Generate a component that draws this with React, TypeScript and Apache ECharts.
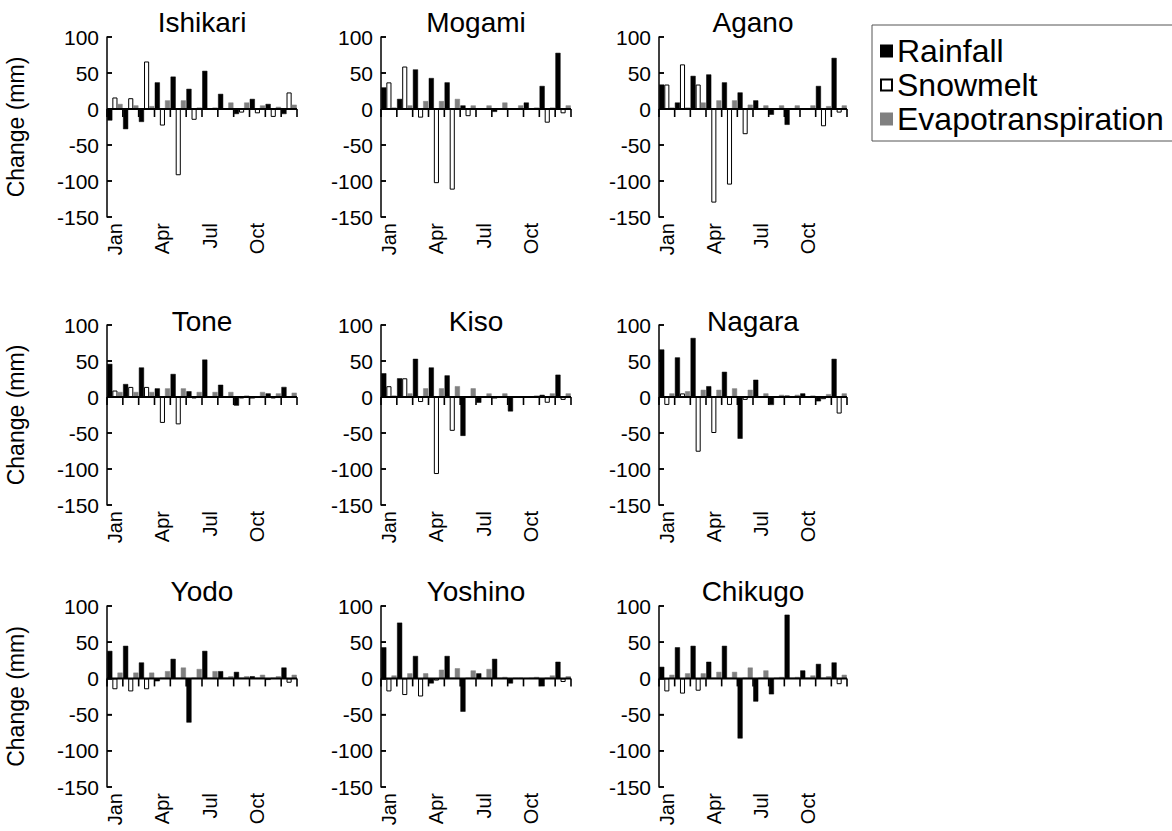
import React, { useEffect, useRef } from 'react';
import * as echarts from 'echarts';

const months = ['Jan', 'Feb', 'Mar', 'Apr', 'May', 'Jun', 'Jul', 'Aug', 'Sep', 'Oct', 'Nov', 'Dec'];
const seriesNames = ['Rainfall', 'Snowmelt', 'Evapotranspiration'];
const yTicks = { min: -150, max: 100, interval: 50 };

const ishikariRain = [-16, -28, -18, 37, 45, 28, 53, 21, -7, 14, 7, -7];
const ishikariSnow = [16, 15, 66, -23, -92, -15, 0, 0, -5, -6, -11, 23];
const ishikariEvap = [7, 5, 4, 12, 12, 2, 2, 9, 9, 5, 3, 6];

const mogamiRain = [30, 14, 55, 43, 37, 5, 1, -4, 0, 9, 32, 78];
const mogamiSnow = [37, 59, -12, -103, -112, -10, 0, 0, 0, 0, -19, -6];
const mogamiEvap = [2, 5, 11, 11, 14, 5, 5, 9, 5, 2, 2, 5];

const aganoRain = [34, 9, 46, 48, 37, 23, 12, -8, -22, -1, 32, 71];
const aganoSnow = [34, 62, 34, -130, -105, -35, 0, 0, 0, 1, -24, -5];
const aganoEvap = [2, 2, 9, 12, 12, 6, 5, 5, 5, 5, 4, 5];

const toneRain = [46, 18, 41, 12, 32, 8, 52, 17, -12, -2, 5, 14];
const toneSnow = [9, 14, 14, -36, -38, -2, 0, 0, -2, 0, -2, 0];
const toneEvap = [7, 7, 7, 12, 12, 7, 7, 7, 2, 7, 5, 6];

const kisoRain = [33, 26, 53, 41, 30, -54, -8, -2, -20, 0, 3, 31];
const kisoSnow = [15, 26, -7, -107, -47, -1, 0, 0, 0, 0, -8, -4];
const kisoEvap = [2, 5, 12, 12, 15, 12, 5, 5, 1, 2, 5, 5];

const nagaraRain = [66, 55, 82, 15, 35, -58, 24, -11, 2, 5, -6, 53];
const nagaraSnow = [-11, 5, -76, -50, -11, -4, 0, 0, 0, 0, -3, -23];
const nagaraEvap = [5, 8, 10, 10, 12, 10, 5, 3, 3, 2, 4, 5];

const yodoRain = [38, 45, 22, -4, 27, -61, 38, 10, 9, 3, -2, 15];
const yodoSnow = [-15, -18, -15, 0, 0, 0, 0, 0, 0, 0, 0, -6];
const yodoEvap = [8, 8, 8, 10, 15, 13, 10, 3, 3, 5, 3, 5];

const yoshinoRain = [43, 77, 31, -7, 31, -46, 7, 27, -7, 0, -11, 23];
const yoshinoSnow = [-18, -23, -25, -3, 0, 0, 0, 0, 0, 0, 0, -5];
const yoshinoEvap = [4, 7, 7, 12, 14, 11, 13, 2, 1, 2, 4, 3];

const chikugoRain = [16, 43, 45, 23, 45, -83, -32, -22, 88, 11, 20, 22];
const chikugoSnow = [-18, -21, -17, 0, 0, 0, 0, 0, 0, 0, 0, -8];
const chikugoEvap = [5, 7, 7, 9, 9, 15, 11, 2, 2, 4, 3, 5];

const panels = [
  { name: 'Ishikari', values: [ishikariRain, ishikariSnow, ishikariEvap] },
  { name: 'Mogami', values: [mogamiRain, mogamiSnow, mogamiEvap] },
  { name: 'Agano', values: [aganoRain, aganoSnow, aganoEvap] },
  { name: 'Tone', values: [toneRain, toneSnow, toneEvap] },
  { name: 'Kiso', values: [kisoRain, kisoSnow, kisoEvap] },
  { name: 'Nagara', values: [nagaraRain, nagaraSnow, nagaraEvap] },
  { name: 'Yodo', values: [yodoRain, yodoSnow, yodoEvap] },
  { name: 'Yoshino', values: [yoshinoRain, yoshinoSnow, yoshinoEvap] },
  { name: 'Chikugo', values: [chikugoRain, chikugoSnow, chikugoEvap] },
];

const FONT = '"Liberation Sans", Arial, Helvetica, sans-serif';
const colLeft = [107, 381, 659];
const colWidth = [190, 190, 188];
const rowTop = [37, 325, 606];
const rowHeight = [180, 180, 181];
const titleY = [22, 321, 591];

const seriesStyles = [
  { color: '#000000', borderColor: '#000000', borderWidth: 0.5 },
  { color: '#ffffff', borderColor: '#000000', borderWidth: 1 },
  { color: '#808080', borderColor: '#808080', borderWidth: 0.5 },
];

export default function App() {
  const ref = useRef<HTMLDivElement>(null);

  useEffect(() => {
    if (!ref.current) return;
    const chart = echarts.init(ref.current, null, { renderer: 'svg' });

    const grid: any[] = [];
    const xAxis: any[] = [];
    const yAxis: any[] = [];
    const series: any[] = [];
    const graphic: any[] = [];

    panels.forEach((p, i) => {
      const col = i % 3;
      const row = Math.floor(i / 3);
      const left = colLeft[col];
      const width = colWidth[col];
      const top = rowTop[row];
      const h = rowHeight[row];
      grid.push({
        left,
        top,
        width,
        height: h,
        containLabel: false,
        outerBoundsMode: 'none',
      });
      xAxis.push({
        type: 'category',
        gridIndex: i,
        data: months,
        position: 'bottom',
        axisLine: { show: false, onZero: false },
        axisTick: { show: false },
        splitLine: { show: false },
        axisLabel: {
          interval: 2,
          rotate: 90,
          fontSize: 20,
          fontFamily: FONT,
          color: '#000',
          margin: 6,
        },
      });
      yAxis.push({
        type: 'value',
        gridIndex: i,
        min: yTicks.min,
        max: yTicks.max,
        interval: yTicks.interval,
        axisLine: { show: true, onZero: false, lineStyle: { color: '#000', width: 1.5 } },
        axisTick: { show: true, inside: true, length: 5, lineStyle: { color: '#000', width: 1.5 } },
        splitLine: { show: false },
        axisLabel: { fontSize: 21, fontFamily: FONT, color: '#000', margin: 8 },
        name: col === 0 ? 'Change (mm)' : '',
        nameLocation: 'middle',
        nameGap: 80,
        nameRotate: 90,
        nameTextStyle: { fontSize: 23, fontFamily: FONT, color: '#000' },
      });
      p.values.forEach((vals, k) => {
        series.push({
          type: 'bar',
          name: seriesNames[k],
          xAxisIndex: i,
          yAxisIndex: i,
          data: vals,
          barGap: '0%',
          barCategoryGap: '3%',
          itemStyle: seriesStyles[k],
          silent: true,
          z: 2,
        });
      });

      // panel title
      graphic.push({
        type: 'text',
        x: left + width / 2,
        y: titleY[row],
        style: {
          text: p.name,
          fontSize: 28,
          fontFamily: FONT,
          fill: '#000',
          textAlign: 'center',
          textVerticalAlign: 'middle',
        },
      });

      // zero line and month-boundary ticks, derived from the grid layout
      const span = yTicks.max - yTicks.min;
      const zeroY = top + (h * yTicks.max) / span;
      const band = width / months.length;
      graphic.push({
        type: 'rect',
        z: 10,
        silent: true,
        shape: { x: left, y: zeroY - 1, width, height: 2 },
        style: { fill: '#000' },
      });
      for (let j = 0; j <= months.length; j++) {
        graphic.push({
          type: 'rect',
          z: 10,
          silent: true,
          shape: { x: left + j * band - 0.8, y: zeroY, width: 1.6, height: 8 },
          style: { fill: '#000' },
        });
      }
      // inward stubs at each y tick
      for (let v = yTicks.min; v <= yTicks.max; v += yTicks.interval) {
        const ty = top + (h * (yTicks.max - v)) / span;
        graphic.push({
          type: 'rect',
          z: 10,
          silent: true,
          shape: { x: left, y: ty - 0.75, width: 5, height: 1.5 },
          style: { fill: '#000' },
        });
      }
    });

    graphic.push({
      type: 'rect',
      shape: { x: 872, y: 25, width: 320, height: 116 },
      style: { fill: 'none', stroke: '#555', lineWidth: 1 },
    });

    chart.setOption({
      animation: false,
      backgroundColor: '#fff',
      grid,
      xAxis,
      yAxis,
      series,
      graphic,
      legend: {
        data: seriesNames,
        orient: 'vertical',
        left: 880,
        top: 35,
        itemWidth: 11,
        itemHeight: 11,
        itemGap: 2,
        icon: 'rect',
        padding: 0,
        textStyle: { fontSize: 32, fontFamily: FONT, color: '#000' },
        selectedMode: false,
      },
    });

    return () => chart.dispose();
  }, []);

  return (
    <div
      ref={ref}
      style={{ position: 'absolute', left: 0, top: 0, width: 1172, height: 831, background: '#fff' }}
    />
  );
}
